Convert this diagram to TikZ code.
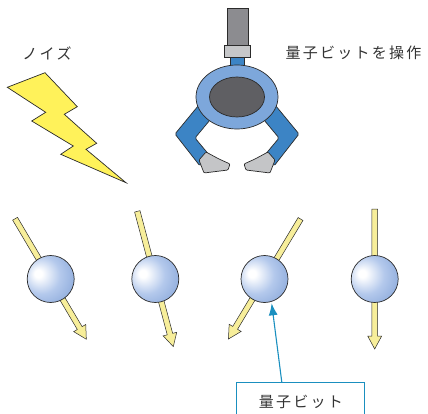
\documentclass[tikz,border=0pt]{standalone}
\usepackage{fontspec}
\newfontfamily\jpfont[LetterSpace=15]{Noto Sans CJK JP}
\usetikzlibrary{backgrounds,arrows.meta}

\definecolor{outline}{HTML}{2B2B2B}
\definecolor{labeltext}{HTML}{333333}
\definecolor{boltyellow}{HTML}{FFF25A}
\definecolor{spinyellow}{HTML}{F7EE9A}
\definecolor{rodgray}{HTML}{8C8C90}
\definecolor{collargray}{HTML}{C6C7C9}
\definecolor{fingergray}{HTML}{C4C5C7}
\definecolor{palmgray}{HTML}{5F5F63}
\definecolor{armblue}{HTML}{3C84C5}
\definecolor{ringblue}{HTML}{7DA7DB}
\definecolor{calloutblue}{HTML}{1A8FBF}
\definecolor{qbitlight}{HTML}{B4C9EC}
\definecolor{qbitblue}{HTML}{7094CF}

\pgfdeclareradialshading{qbitball}{\pgfpoint{-14bp}{6bp}}{%
  color(0bp)=(white); color(4bp)=(white);
  color(20bp)=(qbitlight); color(48bp)=(qbitblue); color(70bp)=(qbitblue)}

\begin{document}
\begin{tikzpicture}[x=1pt, y=-1pt,
  jlabel/.style={font=\jpfont\fontsize{15}{15}\selectfont, text=labeltext},
  qubit/.style={circle, draw=outline, line width=0.7pt, shading=qbitball,
    minimum size=47pt, inner sep=0pt},
  spin/.style={fill=spinyellow, draw=outline, line width=0.5pt},
  grip/.style={draw=outline, line width=0.7pt}]

\useasboundingbox (0,0) rectangle (428,414);

% noise
\node[jlabel] (noise) at (47,53) {ノイズ};
\filldraw[fill=boltyellow, draw=outline, line width=0.7pt]
  (7.3,87.3) -- (45,72.7) -- (77.3,106.7) -- (64.3,114.3) -- (96.7,143.3)
  -- (86,149.3) -- (126,182.7) -- (60.7,154.3) -- (73.3,146) -- (31.7,121)
  -- (45.7,112.3) -- cycle;

% gripper
\node[jlabel, anchor=west] (grab) at (282,53) {量子ビットを操作};
\foreach \side in {1,-1} {
  \begin{scope}[shift={(237,0)}, xscale=\side]
    \filldraw[grip, fill=armblue, rounded corners=1.5pt]
      (-34,100) -- (-62,134) -- (-37,166) -- (-27,156) -- (-42,138) -- (-22,114) -- cycle;
    \filldraw[grip, fill=fingergray, rounded corners=1pt]
      (-38,160) -- (-31,152) -- (-18,159) -- (-7,164) -- (-9,170) -- (-33,173) -- cycle;
  \end{scope}
}
\filldraw[grip, fill=armblue] (230,57) rectangle (244,67);
\filldraw[grip, fill=rodgray] (227,8) rectangle (248,45);
\filldraw[grip, fill=collargray] (224,45) rectangle (250,57);
\filldraw[grip, fill=ringblue] (237,97) ellipse [x radius=41pt, y radius=32pt];
\filldraw[grip, fill=palmgray] (237,97) ellipse [x radius=27.5pt, y radius=20pt];

% qubits
\node[qubit] (q1) at (50.7,279) {};
\node[qubit] (q2) at (155.3,279) {};
\node[qubit] (q3) at (264.5,279) {};
\node[qubit] (q4) at (374.7,279) {};

\begin{scope}[on background layer]
  \foreach \i/\ang in {1/-59.4, 2/-75.1, 3/-121, 4/-90}
    \filldraw[spin, shift={(q\i)}, rotate=\ang]
      (-70,-2.8) -- (57,-2.8) -- (57,-7) -- (70,0) -- (57,7) -- (57,2.8) -- (-70,2.8) -- cycle;
\end{scope}

% callout
\node[jlabel, draw=calloutblue, line width=1pt, minimum width=128pt,
  minimum height=38.6pt] (bitlabel) at (300.8,402) {量子ビット};
\draw[-{Latex[length=12pt,width=9pt]}, calloutblue, line width=1.1pt, shorten >=1.5pt]
  ([xshift=-19pt]bitlabel.north) -- (q3.-73);

\end{tikzpicture}
\end{document}
